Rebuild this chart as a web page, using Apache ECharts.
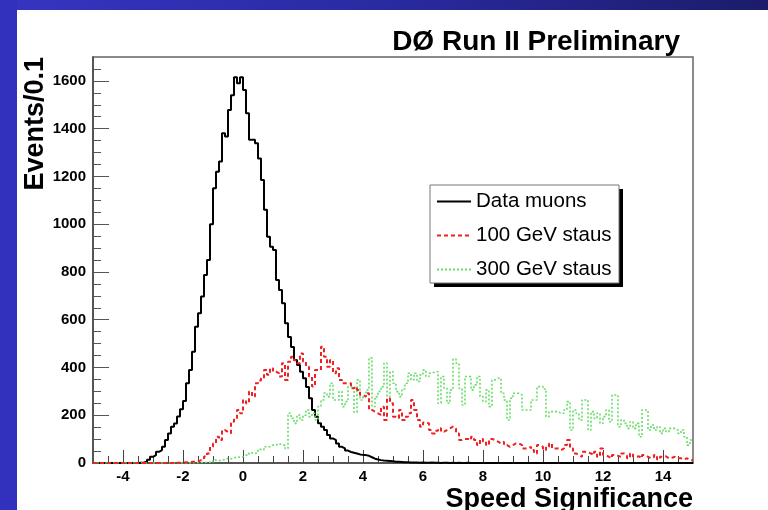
<!DOCTYPE html>
<html>
<head>
<meta charset="utf-8">
<script src="https://cdn.jsdelivr.net/npm/echarts@6/dist/echarts.min.js"></script>
<style>html,body{margin:0;padding:0;background:#fff}#c{width:768px;height:510px}</style>
</head>
<body>
<div id="c"></div>
<script>
// Histogram binning (Events / 0.1), bins from -5 to 15
const binStart = -5;
const binWidth = 0.1;

// Data muons: one row per unit, row starts at x = -5, -4, ..., 14
const dataMuons = [
  0,0,0,0,0,0,0,0,0,0,
  0,0,0,0,0,1,2,5,14,26,
  33,47,54,68,96,124,152,165,195,225,
  260,334,389,466,571,627,697,787,850,1000,
  1150,1220,1262,1381,1367,1478,1540,1615,1590,1615,
  1562,1464,1353,1353,1339,1275,1185,1060,947,905,
  892,766,724,669,585,528,486,431,410,382,
  355,318,271,222,194,166,152,138,117,103,
  96,82,68,61,52,46,43,40,36,34,
  33,30,24,18,15,12,10,9,8,7,
  5,5,4,3,3,2,2,2,1,2,
  1,1,2,1,1,0,1,1,0,1,
  0,1,0,0,1,0,0,0,0,0,
  0,0,0,0,0,0,0,0,0,0,
  0,0,0,0,0,0,0,0,0,0,
  0,0,0,0,0,0,0,0,0,0,
  0,0,0,0,0,0,0,0,0,0,
  0,0,0,0,0,0,0,0,0,0,
  0,0,0,0,0,0,0,0,0,0,
  0,0,0,0,0,0,0,0,0,0
];

// 100 GeV staus
const staus100 = [
  0,0,0,0,0,0,0,0,0,0,
  0,0,0,0,0,0,0,0,0,0,
  0,0,0,0,0,0,0,1,1,2,
  3,4,5,5,6,12,15,27,40,68,
  82,110,96,138,130,124,173,187,222,208,
  264,250,299,278,334,345,355,389,369,397,
  382,376,362,418,348,424,445,430,418,459,
  424,403,362,320,389,389,487,445,403,431,
  376,397,348,334,334,334,313,320,306,285,
  278,292,222,215,208,201,236,180,271,250,
  194,187,222,180,194,208,264,222,180,152,
  170,166,138,124,135,145,131,138,145,152,
  145,124,96,101,101,96,110,96,75,101,
  89,75,101,96,89,82,89,75,68,75,
  82,82,75,61,61,68,54,40,75,68,
  54,68,82,61,61,54,61,75,96,61,
  40,33,26,47,44,40,33,47,26,61,
  33,26,20,33,30,26,40,33,20,40,
  26,28,20,33,26,20,24,33,15,26,
  28,20,22,26,20,20,15,20,12,12
];

// 300 GeV staus
const staus300 = [
  0,0,0,0,0,0,0,0,0,0,
  0,0,0,0,0,0,0,0,0,0,
  0,0,0,0,0,0,0,0,0,0,
  0,0,0,1,1,2,2,3,3,3,
  12,10,12,14,20,18,20,26,24,26,
  33,33,43,40,43,57,55,68,68,75,
  75,82,75,75,61,208,187,166,201,180,
  200,222,194,208,180,236,264,293,278,334,
  264,264,299,236,257,320,320,213,348,264,
  278,306,440,236,278,300,320,418,278,382,
  334,299,278,310,334,376,348,376,341,369,
  389,362,376,382,382,250,362,313,250,306,
  435,418,313,243,362,362,306,327,362,278,
  257,306,236,348,355,355,292,264,180,271,
  292,292,285,222,222,222,264,264,320,320,
  310,194,215,215,215,208,208,222,257,138,
  222,208,180,264,264,138,215,187,208,166,
  194,222,173,285,285,152,180,166,145,173,
  145,166,110,222,222,138,159,138,152,124,
  145,131,145,145,138,124,138,110,75,96
];

const seriesNames = ['Data muons', '100 GeV staus', '300 GeV staus'];
const xMajorTicks = [-4, -2, 0, 2, 4, 6, 8, 10, 12, 14];
const xMinorTicks = [-4.5,-3.5,-3,-2.5,-1.5,-1,-0.5,0.5,1,1.5,2.5,3,3.5,4.5,5,5.5,6.5,7,7.5,8.5,9,9.5,10.5,11,11.5,12.5,13,13.5,14.5];
const yMajorTicks = [0, 200, 400, 600, 800, 1000, 1200, 1400, 1600];
const yMinorTicks = [50,100,150,250,300,350,450,500,550,650,700,750,850,900,950,1050,1100,1150,1250,1300,1350,1450,1500,1550,1650];

function toSteps(vals) {
  const pts = vals.map((v, i) => [Math.round((binStart + i * binWidth) * 10) / 10, v]);
  pts.push([Math.round((binStart + vals.length * binWidth) * 10) / 10, vals[vals.length - 1]]);
  return pts;
}

const FONT = 'Liberation Sans';
const chart = echarts.init(document.getElementById('c'));

const labelStyle = { fontFamily: FONT, fontWeight: 'bold', fontSize: 15, color: '#000' };

chart.setOption({
  backgroundColor: '#ffffff',
  animation: false,
  title: {
    text: 'DØ Run II Preliminary',
    right: 83, top: 23,
    textStyle: { fontFamily: FONT, fontWeight: 'bold', fontSize: 28, color: '#000' }
  },
  grid: { left: 93, top: 57, width: 600, height: 406, show: true, borderColor: '#666', borderWidth: 1.5,
          backgroundColor: 'transparent', containLabel: false, outerBoundsMode: 'none' },
  legend: {
    orient: 'vertical', left: 436, top: 191, padding: 0, itemWidth: 34, itemHeight: 14, itemGap: 13, z: 10,
    data: seriesNames,
    itemStyle: { opacity: 0 },
    textStyle: { fontFamily: FONT, fontSize: 20.5, color: '#000' }
  },
  xAxis: [
    {
      type: 'value', min: -5, max: 15, position: 'bottom',
      axisLine: { show: true, onZero: false, lineStyle: { color: '#444', width: 1.5 } },
      axisTick: { show: true, inside: true, length: 13, customValues: xMajorTicks, lineStyle: { color: '#444', width: 1 } },
      axisLabel: { show: true, margin: 6, customValues: xMajorTicks, ...labelStyle },
      splitLine: { show: false },
      name: 'Speed Significance', nameLocation: 'end', nameGap: 0,
      nameTextStyle: { fontFamily: FONT, fontWeight: 'bold', fontSize: 27, color: '#000', align: 'right', verticalAlign: 'top', padding: [23, 0, 0, 0] }
    },
    {
      type: 'value', min: -5, max: 15, position: 'bottom',
      axisLine: { show: false, onZero: false },
      axisTick: { show: true, inside: true, length: 7, customValues: xMinorTicks, lineStyle: { color: '#444', width: 1 } },
      axisLabel: { show: false },
      splitLine: { show: false }
    }
  ],
  yAxis: [
    {
      type: 'value', min: 0, max: 1700, position: 'left',
      axisLine: { show: true, onZero: false, lineStyle: { color: '#444', width: 1.5 } },
      axisTick: { show: true, inside: true, length: 16, customValues: yMajorTicks, lineStyle: { color: '#555', width: 1 } },
      axisLabel: { show: true, margin: 7, customValues: yMajorTicks, formatter: v => String(v), ...labelStyle },
      splitLine: { show: false }
    },
    {
      type: 'value', min: 0, max: 1700, position: 'left',
      axisLine: { show: false, onZero: false },
      axisTick: { show: true, inside: true, length: 8, customValues: yMinorTicks, lineStyle: { color: '#555', width: 1 } },
      axisLabel: { show: false },
      splitLine: { show: false }
    }
  ],
  graphic: [
    { type: 'rect', z: -10, shape: { x: 0, y: 0, width: 768, height: 10 },
      style: { fill: new echarts.graphic.LinearGradient(0, 0, 1, 0, [
        { offset: 0, color: '#3535c2' }, { offset: 0.5, color: '#2a2aa2' }, { offset: 1, color: '#1c1c6a' }]) } },
    { type: 'rect', z: -10, shape: { x: 0, y: 0, width: 17, height: 510 }, style: { fill: '#3131be' } },
    { type: 'rect', z: 7, shape: { x: 434, y: 189, width: 189, height: 98 }, style: { fill: '#000' } },
    { type: 'rect', z: 8, shape: { x: 430, y: 185, width: 189, height: 98 }, style: { fill: '#fff', stroke: '#777', lineWidth: 1 } },
    { type: 'text', z: 10, x: 36, y: 57, rotation: Math.PI / 2,
      style: { text: 'Events/0.1', fontFamily: FONT, fontWeight: 'bold', fontSize: 27, fill: '#000', align: 'right', verticalAlign: 'middle' } }
  ],
  series: [
    { name: seriesNames[0], type: 'line', step: 'end', xAxisIndex: 0, yAxisIndex: 0, data: toSteps(dataMuons),
      symbol: 'none', showSymbol: false, lineStyle: { color: '#000', width: 2 }, itemStyle: { color: '#000' }, z: 3 },
    { name: seriesNames[1], type: 'line', step: 'end', xAxisIndex: 0, yAxisIndex: 0, data: toSteps(staus100),
      symbol: 'none', showSymbol: false, lineStyle: { color: '#ee2222', width: 2, type: [4, 3] }, itemStyle: { color: '#ee2222' }, z: 4 },
    { name: seriesNames[2], type: 'line', step: 'end', xAxisIndex: 0, yAxisIndex: 0, data: toSteps(staus300),
      symbol: 'none', showSymbol: false, lineStyle: { color: '#66dd66', width: 1.6, type: [2, 2] }, itemStyle: { color: '#66dd66' }, z: 3 }
  ]
});
</script>
</body>
</html>
